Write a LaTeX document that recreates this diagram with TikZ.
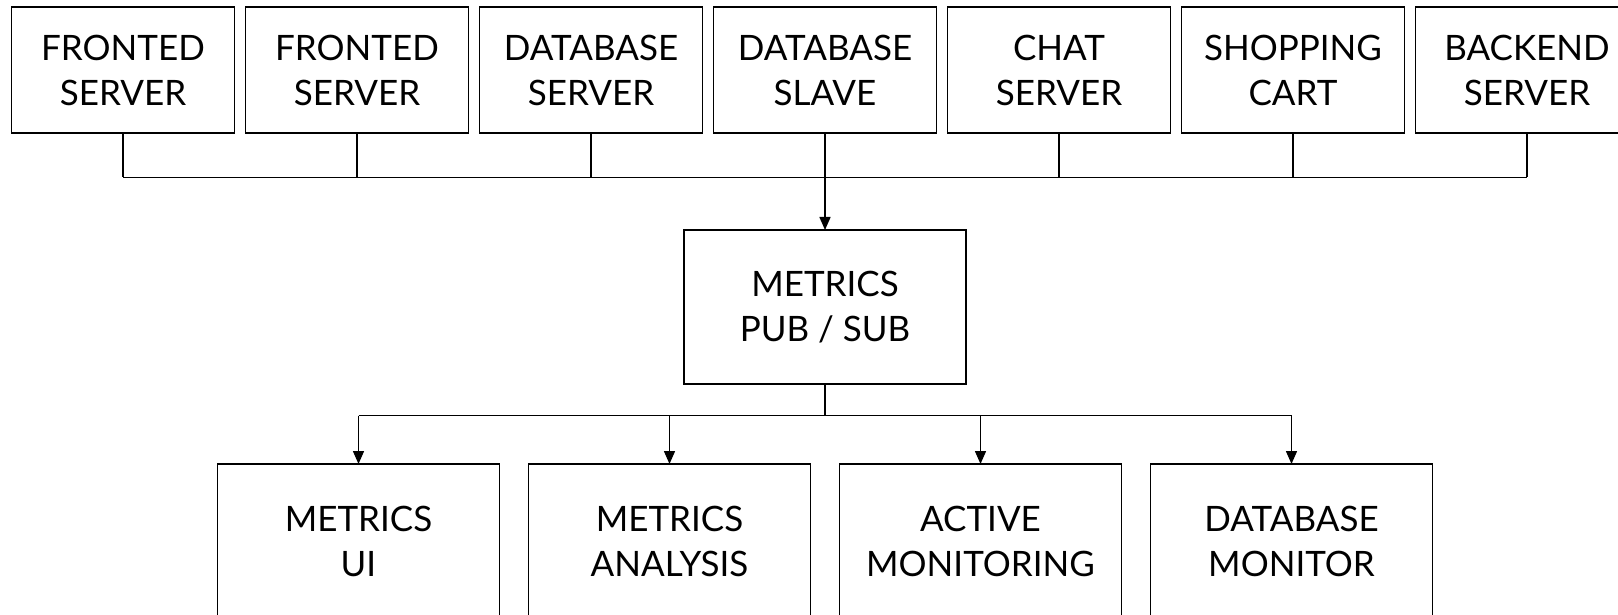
\documentclass[tikz,border=0pt]{standalone}
\usepackage{fontspec}
\setmainfont{Lato}
\usetikzlibrary{arrows.meta}

\tikzset{
  server/.style={draw, line width=1.5pt, outer sep=0pt, minimum width=223pt, minimum height=126pt,
    align=center, font=\fontsize{35}{45}\selectfont},
  metric/.style={server, minimum width=282pt, minimum height=154pt},
  link/.style={line width=1.5pt},
  feed/.style={link, -{Triangle[length=13pt,width=11pt]}}
}

\begin{document}
\begin{tikzpicture}[x=1pt,y=1pt]
    \useasboundingbox (0,0) rectangle (1618,614);

    % Top row of servers
    \node[server] (front1) at (123,544) {FRONTED\\SERVER};
    \node[server] (front2) at (357,544) {FRONTED\\SERVER};
    \node[server] (dbserver) at (591,544) {DATABASE\\SERVER};
    \node[server] (dbslave) at (825,544) {DATABASE\\SLAVE};
    \node[server] (chat) at (1059,544) {CHAT\\SERVER};
    \node[server] (cart) at (1293,544) {SHOPPING\\CART};
    \node[server] (backend) at (1527,544) {BACKEND\\SERVER};

    % Pub / sub in the middle
    \node[metric] (pubsub) at (825,307) {METRICS\\PUB / SUB};

    % Consumers at the bottom
    \node[metric] (ui) at (358.5,73) {METRICS\\UI};
    \node[metric] (analysis) at (669.5,73) {METRICS\\ANALYSIS};
    \node[metric] (active) at (980.5,73) {ACTIVE\\MONITORING};
    \node[metric] (dbmonitor) at (1291.5,73) {DATABASE\\MONITOR};

    % Bus lines
    \coordinate (topbus) at (825,436.5);
    \coordinate (botbus) at (825,198.5);

    % Servers into the top bus
    \draw[link] (front1.south |- topbus) -- (backend.south |- topbus);
    \foreach \n in {front1, front2, dbserver, dbslave, chat, cart, backend}
        \draw[link] (\n.south) -- (\n.south |- topbus);
    \draw[feed] (topbus) -- (pubsub.north);

    % Pub / sub out to the consumers
    \draw[link] (pubsub.south) -- (botbus);
    \draw[link] (ui.north |- botbus) -- (dbmonitor.north |- botbus);
    \foreach \n in {ui, analysis, active, dbmonitor}
        \draw[feed] (\n.north |- botbus) -- (\n.north);
\end{tikzpicture}
\end{document}
